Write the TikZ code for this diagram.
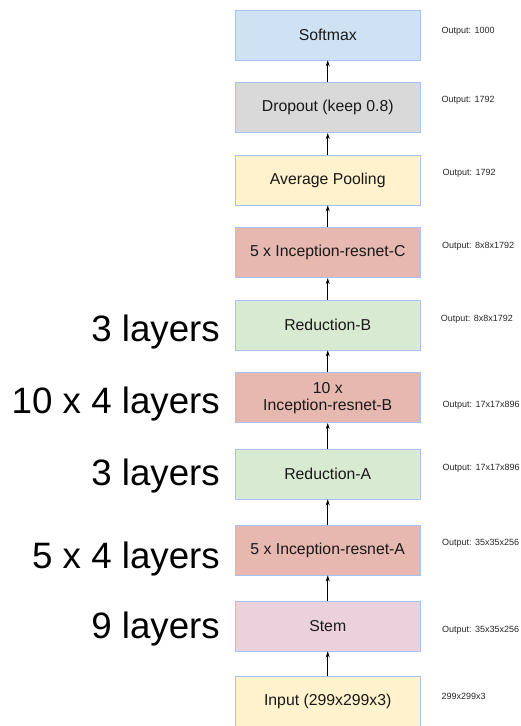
\documentclass[tikz,border=0pt]{standalone}
\usepackage{fontspec}
\setmainfont{Liberation Sans}
\usetikzlibrary{arrows.meta}
\definecolor{edgeblue}{HTML}{A4C2F4}
\definecolor{cblue}{HTML}{CFE2F3}
\definecolor{cgray}{HTML}{D9D9D9}
\definecolor{cyellow}{HTML}{FFF2CC}
\definecolor{cred}{HTML}{E6B8AF}
\definecolor{cgreen}{HTML}{D9EAD3}
\definecolor{cpurple}{HTML}{EAD1DC}
\begin{document}
\begin{tikzpicture}[x=1pt,y=-1pt,
  layer/.style={draw=edgeblue, line width=0.9pt, minimum width=184.5pt, minimum height=50pt,
    inner sep=0pt, align=center, text=black!90,
    font=\fontsize{15.8}{17}\selectfont},
  outlabel/.style={anchor=west, inner sep=0pt, font=\fontsize{9}{10}\selectfont, text=black!85},
  depth/.style={anchor=base east, inner sep=0pt, font=\fontsize{36.7}{40}\selectfont},
  flow/.style={-{Stealth[length=6pt,width=4pt]}, line width=0.8pt, black}]
\useasboundingbox (0,0) rectangle (521,726);
\clip (0,0) rectangle (521,726);

% network blocks, bottom to top
\node[layer, fill=cblue]   (soft) at (327.75,35)    {Softmax};
\node[layer, fill=cgray]   (drop) at (327.75,107.7) {Dropout (keep 0.8)};
\node[layer, fill=cyellow] (pool) at (327.75,180)   {Average Pooling};
\node[layer, fill=cred]    (incc) at (327.75,252.7) {5 x Inception-resnet-C};
\node[layer, fill=cgreen]  (redb) at (327.75,325)   {Reduction-B};
\node[layer, fill=cred]    (incb) at (327.75,397.7) {10 x\\Inception-resnet-B};
\node[layer, fill=cgreen]  (reda) at (327.75,474)   {Reduction-A};
\node[layer, fill=cred]    (inca) at (327.75,550)   {5 x Inception-resnet-A};
\node[layer, fill=cpurple] (stem) at (327.75,626)   {Stem};
\node[layer, fill=cyellow] (inp)  at (327.75,701.7) {Input (299x299x3)};

% data flow
\draw[flow] (inp.north)  -- (stem.south);
\draw[flow] (stem.north) -- (inca.south);
\draw[flow] (inca.north) -- (reda.south);
\draw[flow] (reda.north) -- (incb.south);
\draw[flow] (incb.north) -- (redb.south);
\draw[flow] (redb.north) -- (incc.south);
\draw[flow] (incc.north) -- (pool.south);
\draw[flow] (pool.north) -- (drop.south);
\draw[flow] (drop.north) -- (soft.south);

% output shapes
\node[outlabel] (osoft) at (441.5,31.5)  {Output: 1000};
\node[outlabel] (odrop) at (441.5,100)   {Output: 1792};
\node[outlabel] (opool) at (442.5,173)   {Output: 1792};
\node[outlabel] (oincc) at (442,246.7)   {Output: 8x8x1792};
\node[outlabel] (oredb) at (440.7,319)   {Output: 8x8x1792};
\node[outlabel] (oincb) at (442.5,405.7) {Output: 17x17x896};
\node[outlabel] (oreda) at (442.5,468)   {Output: 17x17x896};
\node[outlabel] (oinca) at (442,543.3)   {Output: 35x35x256};
\node[outlabel] (ostem) at (442,630)     {Output: 35x35x256};
\node[outlabel] (oinp)  at (441.5,696)   {299x299x3};

% layer counts
\node[depth] (dredb) at (220,341.7) {3 layers};
\node[depth] (dincb) at (220,413)   {10 x 4 layers};
\node[depth] (dreda) at (220,485.7) {3 layers};
\node[depth] (dinca) at (220,568)   {5 x 4 layers};
\node[depth] (dstem) at (220,638)   {9 layers};
\end{tikzpicture}
\end{document}
